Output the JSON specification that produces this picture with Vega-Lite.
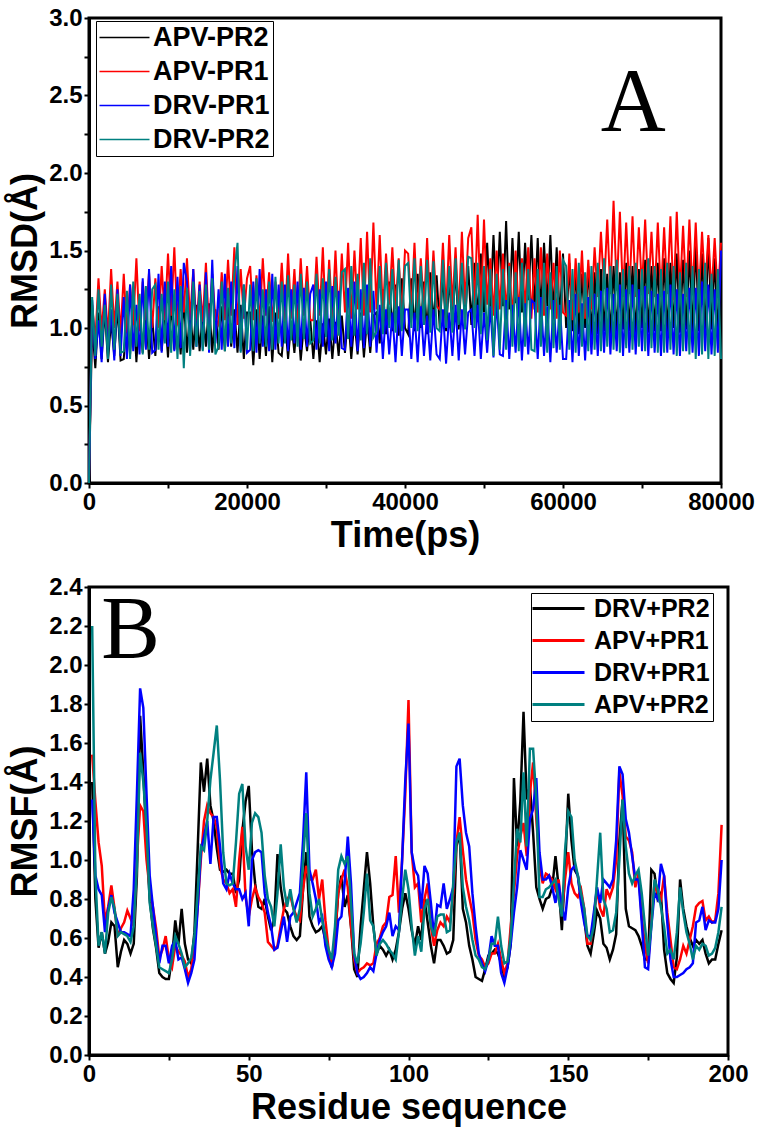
{
"$schema": "https://vega.github.io/schema/vega-lite/v6.json",
"background": "white",
"padding": {"left": 6, "top": 4, "right": 10, "bottom": 5},
"spacing": 18,
"config": {
  "view": {"stroke": "black", "strokeWidth": 3},
  "axis": {"domainColor": "black", "domainWidth": 3, "tickColor": "black", "tickWidth": 2, "labelFont": "Liberation Sans", "labelFontWeight": "bold", "labelFontSize": 24, "labelColor": "black", "labelPadding": 2, "labelOverlap": false, "labelFlush": false, "titleFont": "Liberation Sans", "titleFontWeight": "bold", "titleFontSize": 36, "titleColor": "black", "grid": false},
  "legend": {"symbolType": "M-2.5,0H2.5", "symbolFillColor": "transparent", "labelFont": "Liberation Sans", "labelFontWeight": "bold", "labelColor": "black", "strokeColor": "black", "fillColor": "white", "padding": 3, "orient": "none", "symbolSize": 400, "symbolOffset": 12, "labelOffset": 15}
},
"resolve": {"scale": {"color": "independent"}},
"vconcat": [
{
  "width": 632, "height": 465,
  "data": {"values": [
{"t":0,"k":0,"r":0,"b":0,"g":0},
{"t":400,"k":1.02,"r":1.15,"b":1.18,"g":1.20},
{"t":800,"k":0.74,"r":0.92,"b":0.80,"g":0.82},
{"t":1200,"k":1.10,"r":1.32,"b":1.05,"g":1.25},
{"t":1600,"k":0.80,"r":0.98,"b":0.78,"g":0.88},
{"t":2000,"k":1.12,"r":1.25,"b":1.22,"g":1.15},
{"t":2400,"k":0.78,"r":0.95,"b":0.84,"g":0.80},
{"t":2800,"k":1.05,"r":1.38,"b":1.12,"g":1.28},
{"t":3200,"k":0.82,"r":1.00,"b":0.79,"g":0.86},
{"t":3600,"k":1.14,"r":1.30,"b":1.25,"g":1.22},
{"t":4000,"k":0.79,"r":0.96,"b":0.82,"g":0.84},
{"t":4400,"k":0.80,"r":1.35,"b":1.20,"g":0.85},
{"t":4800,"k":1.08,"r":0.97,"b":0.80,"g":1.24},
{"t":5200,"k":0.83,"r":1.28,"b":1.28,"g":0.80},
{"t":5600,"k":1.15,"r":1.02,"b":0.85,"g":1.30},
{"t":6000,"k":0.78,"r":1.45,"b":1.15,"g":0.88},
{"t":6400,"k":1.10,"r":0.98,"b":0.83,"g":1.22},
{"t":6800,"k":0.84,"r":1.30,"b":1.32,"g":0.83},
{"t":7200,"k":1.12,"r":1.05,"b":0.86,"g":1.27},
{"t":7600,"k":0.80,"r":1.36,"b":1.38,"g":0.86},
{"t":8000,"k":1.06,"r":1.00,"b":0.84,"g":1.25},
{"t":8400,"k":0.82,"r":1.32,"b":0.86,"g":1.28},
{"t":8800,"k":1.14,"r":1.00,"b":1.35,"g":0.86},
{"t":9200,"k":0.85,"r":1.40,"b":0.84,"g":1.22},
{"t":9600,"k":1.10,"r":1.05,"b":1.30,"g":0.90},
{"t":10000,"k":0.81,"r":1.48,"b":0.88,"g":1.30},
{"t":10400,"k":1.16,"r":1.08,"b":1.40,"g":0.84},
{"t":10800,"k":0.86,"r":1.52,"b":0.85,"g":1.25},
{"t":11200,"k":1.12,"r":1.02,"b":1.33,"g":0.80},
{"t":11600,"k":0.83,"r":1.38,"b":0.87,"g":1.27},
{"t":12000,"k":1.18,"r":1.10,"b":1.42,"g":0.74},
{"t":12400,"k":0.84,"r":1.45,"b":1.30,"g":1.26},
{"t":12800,"k":1.12,"r":1.05,"b":0.85,"g":0.82},
{"t":13200,"k":0.86,"r":1.38,"b":1.38,"g":1.30},
{"t":13600,"k":1.15,"r":1.00,"b":0.88,"g":0.88},
{"t":14000,"k":0.85,"r":1.30,"b":1.28,"g":1.24},
{"t":14400,"k":1.10,"r":1.04,"b":0.86,"g":0.85},
{"t":14800,"k":0.88,"r":1.42,"b":1.36,"g":1.28},
{"t":15200,"k":1.16,"r":0.98,"b":0.84,"g":0.86},
{"t":15600,"k":0.84,"r":1.35,"b":1.44,"g":1.32},
{"t":16000,"k":1.12,"r":1.06,"b":0.90,"g":0.83},
{"t":16400,"k":0.86,"r":1.02,"b":1.25,"g":0.88},
{"t":16800,"k":1.14,"r":1.36,"b":0.86,"g":1.30},
{"t":17200,"k":0.85,"r":1.05,"b":1.35,"g":0.85},
{"t":17600,"k":1.18,"r":1.44,"b":0.88,"g":1.26},
{"t":18000,"k":0.88,"r":1.08,"b":1.30,"g":0.90},
{"t":18400,"k":1.12,"r":1.52,"b":0.87,"g":1.35},
{"t":18800,"k":0.84,"r":1.02,"b":1.40,"g":1.55},
{"t":19200,"k":1.15,"r":1.38,"b":0.85,"g":0.84},
{"t":19600,"k":0.80,"r":1.06,"b":1.28,"g":1.28},
{"t":20000,"k":1.10,"r":1.32,"b":0.84,"g":0.86},
{"t":20400,"k":1.10,"r":1.40,"b":0.86,"g":1.28},
{"t":20800,"k":0.76,"r":1.05,"b":1.30,"g":0.85},
{"t":21200,"k":1.12,"r":1.34,"b":0.84,"g":1.32},
{"t":21600,"k":0.80,"r":1.02,"b":1.38,"g":0.90},
{"t":22000,"k":1.08,"r":1.45,"b":0.88,"g":1.25},
{"t":22400,"k":0.82,"r":1.08,"b":1.25,"g":0.88},
{"t":22800,"k":1.14,"r":1.36,"b":0.85,"g":1.30},
{"t":23200,"k":0.78,"r":1.04,"b":1.35,"g":0.86},
{"t":23600,"k":1.10,"r":1.30,"b":0.86,"g":1.33},
{"t":24000,"k":0.84,"r":1.06,"b":1.28,"g":0.90},
{"t":24400,"k":0.82,"r":1.42,"b":0.88,"g":1.30},
{"t":24800,"k":1.06,"r":1.04,"b":1.28,"g":0.90},
{"t":25200,"k":0.80,"r":1.48,"b":0.85,"g":1.34},
{"t":25600,"k":1.04,"r":1.06,"b":1.25,"g":0.92},
{"t":26000,"k":0.84,"r":1.38,"b":0.90,"g":1.28},
{"t":26400,"k":1.08,"r":1.02,"b":1.30,"g":0.88},
{"t":26800,"k":0.79,"r":1.45,"b":0.86,"g":1.35},
{"t":27200,"k":1.02,"r":1.08,"b":1.26,"g":0.93},
{"t":27600,"k":0.85,"r":1.40,"b":0.88,"g":1.30},
{"t":28000,"k":1.06,"r":1.05,"b":1.22,"g":0.90},
{"t":28400,"k":0.80,"r":1.05,"b":1.28,"g":0.92},
{"t":28800,"k":1.05,"r":1.46,"b":0.86,"g":1.35},
{"t":29200,"k":0.78,"r":1.08,"b":1.25,"g":0.90},
{"t":29600,"k":1.03,"r":1.52,"b":0.88,"g":1.32},
{"t":30000,"k":0.83,"r":1.02,"b":1.30,"g":0.94},
{"t":30400,"k":1.06,"r":1.44,"b":0.85,"g":1.38},
{"t":30800,"k":0.80,"r":1.06,"b":1.27,"g":0.92},
{"t":31200,"k":1.04,"r":1.50,"b":0.90,"g":1.33},
{"t":31600,"k":0.82,"r":1.04,"b":1.24,"g":0.95},
{"t":32000,"k":1.08,"r":1.48,"b":0.87,"g":1.36},
{"t":32400,"k":0.84,"r":1.10,"b":0.86,"g":1.38},
{"t":32800,"k":1.08,"r":1.55,"b":1.26,"g":0.93},
{"t":33200,"k":0.80,"r":1.06,"b":0.88,"g":1.40},
{"t":33600,"k":1.05,"r":1.50,"b":1.30,"g":0.95},
{"t":34000,"k":0.83,"r":1.12,"b":0.85,"g":1.35},
{"t":34400,"k":1.10,"r":1.58,"b":1.25,"g":0.92},
{"t":34800,"k":0.81,"r":1.08,"b":0.87,"g":1.42},
{"t":35200,"k":1.06,"r":1.62,"b":1.28,"g":0.96},
{"t":35600,"k":0.84,"r":1.10,"b":0.88,"g":1.45},
{"t":36000,"k":1.08,"r":1.68,"b":1.24,"g":0.94},
{"t":36400,"k":1.10,"r":1.12,"b":0.84,"g":0.98},
{"t":36800,"k":0.90,"r":1.60,"b":1.15,"g":1.40},
{"t":37200,"k":1.25,"r":1.10,"b":0.80,"g":0.96},
{"t":37600,"k":0.96,"r":1.48,"b":1.12,"g":1.42},
{"t":38000,"k":1.30,"r":1.15,"b":0.83,"g":1.00},
{"t":38400,"k":0.98,"r":1.52,"b":1.10,"g":1.38},
{"t":38800,"k":1.28,"r":1.12,"b":0.78,"g":0.97},
{"t":39200,"k":0.95,"r":1.45,"b":1.14,"g":1.44},
{"t":39600,"k":1.32,"r":1.08,"b":0.82,"g":0.98},
{"t":40000,"k":1.00,"r":1.50,"b":1.12,"g":1.40},
{"t":40400,"k":0.96,"r":1.48,"b":1.12,"g":1.42},
{"t":40800,"k":1.32,"r":1.10,"b":0.80,"g":1.00},
{"t":41200,"k":0.98,"r":1.55,"b":1.10,"g":1.45},
{"t":41600,"k":1.35,"r":1.08,"b":0.78,"g":0.98},
{"t":42000,"k":1.00,"r":1.45,"b":1.14,"g":1.40},
{"t":42400,"k":1.30,"r":1.12,"b":0.82,"g":1.02},
{"t":42800,"k":0.96,"r":1.58,"b":1.08,"g":1.44},
{"t":43200,"k":1.36,"r":1.10,"b":0.79,"g":0.97},
{"t":43600,"k":1.02,"r":1.50,"b":1.12,"g":1.43},
{"t":44000,"k":1.34,"r":1.14,"b":0.83,"g":1.00},
{"t":44400,"k":1.00,"r":1.12,"b":0.80,"g":0.98},
{"t":44800,"k":1.35,"r":1.55,"b":1.12,"g":1.44},
{"t":45200,"k":0.98,"r":1.10,"b":0.77,"g":1.00},
{"t":45600,"k":1.32,"r":1.60,"b":1.10,"g":1.40},
{"t":46000,"k":1.02,"r":1.14,"b":0.82,"g":0.97},
{"t":46400,"k":1.38,"r":1.52,"b":1.15,"g":1.45},
{"t":46800,"k":0.99,"r":1.08,"b":0.79,"g":1.02},
{"t":47200,"k":1.36,"r":1.62,"b":1.12,"g":1.42},
{"t":47600,"k":1.04,"r":1.15,"b":0.83,"g":0.99},
{"t":48000,"k":1.40,"r":1.58,"b":1.10,"g":1.46},
{"t":48400,"k":1.02,"r":1.65,"b":1.12,"g":1.45},
{"t":48800,"k":1.42,"r":1.12,"b":0.82,"g":1.00},
{"t":49200,"k":1.06,"r":1.73,"b":1.15,"g":1.42},
{"t":49600,"k":1.48,"r":1.10,"b":0.80,"g":0.96},
{"t":50000,"k":1.10,"r":1.70,"b":1.10,"g":1.40},
{"t":50400,"k":1.55,"r":1.15,"b":0.84,"g":0.92},
{"t":50800,"k":1.12,"r":1.45,"b":1.14,"g":1.38},
{"t":51200,"k":1.60,"r":1.08,"b":0.81,"g":0.82},
{"t":51600,"k":1.15,"r":1.50,"b":1.18,"g":1.35},
{"t":52000,"k":1.62,"r":1.12,"b":0.83,"g":0.86},
{"t":52400,"k":1.14,"r":1.48,"b":0.82,"g":1.38},
{"t":52800,"k":1.69,"r":1.10,"b":1.18,"g":0.86},
{"t":53200,"k":1.12,"r":1.42,"b":0.80,"g":1.40},
{"t":53600,"k":1.58,"r":1.05,"b":1.15,"g":0.88},
{"t":54000,"k":1.16,"r":1.50,"b":0.84,"g":1.36},
{"t":54400,"k":1.62,"r":1.08,"b":1.20,"g":0.85},
{"t":54800,"k":1.10,"r":1.45,"b":0.79,"g":1.42},
{"t":55200,"k":1.55,"r":1.12,"b":1.16,"g":0.88},
{"t":55600,"k":1.18,"r":1.52,"b":0.83,"g":1.38},
{"t":56000,"k":1.60,"r":1.06,"b":1.18,"g":0.86},
{"t":56400,"k":1.12,"r":1.45,"b":1.16,"g":0.85},
{"t":56800,"k":1.58,"r":1.10,"b":0.80,"g":1.38},
{"t":57200,"k":1.10,"r":1.52,"b":1.20,"g":0.88},
{"t":57600,"k":1.55,"r":1.08,"b":0.82,"g":1.42},
{"t":58000,"k":1.14,"r":1.48,"b":1.14,"g":0.84},
{"t":58400,"k":1.60,"r":1.12,"b":0.78,"g":1.36},
{"t":58800,"k":1.08,"r":1.42,"b":1.18,"g":0.87},
{"t":59200,"k":1.52,"r":1.06,"b":0.84,"g":1.40},
{"t":59600,"k":1.05,"r":1.50,"b":1.15,"g":0.86},
{"t":60000,"k":1.48,"r":1.10,"b":0.80,"g":1.44},
{"t":60400,"k":1.00,"r":1.08,"b":0.80,"g":1.40},
{"t":60800,"k":1.42,"r":1.48,"b":1.18,"g":0.86},
{"t":61200,"k":0.98,"r":1.05,"b":0.78,"g":1.38},
{"t":61600,"k":1.38,"r":1.45,"b":1.22,"g":0.84},
{"t":62000,"k":0.96,"r":1.10,"b":0.82,"g":1.42},
{"t":62400,"k":1.35,"r":1.50,"b":1.16,"g":0.88},
{"t":62800,"k":1.00,"r":1.06,"b":0.79,"g":1.36},
{"t":63200,"k":1.40,"r":1.44,"b":1.20,"g":0.85},
{"t":63600,"k":0.95,"r":1.12,"b":0.83,"g":1.40},
{"t":64000,"k":1.36,"r":1.52,"b":1.22,"g":0.86},
{"t":64400,"k":0.96,"r":1.20,"b":0.82,"g":1.42},
{"t":64800,"k":1.38,"r":1.62,"b":1.24,"g":0.85},
{"t":65200,"k":0.98,"r":1.25,"b":0.84,"g":1.45},
{"t":65600,"k":1.35,"r":1.70,"b":1.26,"g":0.88},
{"t":66000,"k":0.95,"r":1.22,"b":0.83,"g":1.40},
{"t":66400,"k":1.40,"r":1.82,"b":1.22,"g":0.86},
{"t":66800,"k":0.97,"r":1.24,"b":0.85,"g":1.44},
{"t":67200,"k":1.36,"r":1.75,"b":1.28,"g":0.84},
{"t":67600,"k":0.99,"r":1.20,"b":0.82,"g":1.38},
{"t":68000,"k":1.42,"r":1.68,"b":1.25,"g":0.87},
{"t":68400,"k":0.98,"r":1.22,"b":0.84,"g":1.40},
{"t":68800,"k":1.40,"r":1.72,"b":1.28,"g":0.86},
{"t":69200,"k":0.96,"r":1.20,"b":0.83,"g":1.42},
{"t":69600,"k":1.38,"r":1.65,"b":1.25,"g":0.88},
{"t":70000,"k":1.00,"r":1.25,"b":0.85,"g":1.38},
{"t":70400,"k":1.44,"r":1.70,"b":1.27,"g":0.85},
{"t":70800,"k":0.97,"r":1.22,"b":0.82,"g":1.45},
{"t":71200,"k":1.40,"r":1.62,"b":1.24,"g":0.87},
{"t":71600,"k":0.98,"r":1.20,"b":0.84,"g":1.40},
{"t":72000,"k":1.42,"r":1.68,"b":1.22,"g":0.84},
{"t":72400,"k":0.98,"r":1.20,"b":0.82,"g":1.38},
{"t":72800,"k":1.45,"r":1.65,"b":1.24,"g":0.84},
{"t":73200,"k":0.96,"r":1.22,"b":0.84,"g":1.42},
{"t":73600,"k":1.42,"r":1.72,"b":1.28,"g":0.86},
{"t":74000,"k":1.00,"r":1.18,"b":0.83,"g":1.40},
{"t":74400,"k":1.48,"r":1.75,"b":1.25,"g":0.82},
{"t":74800,"k":0.97,"r":1.22,"b":0.82,"g":1.36},
{"t":75200,"k":1.44,"r":1.66,"b":1.22,"g":0.85},
{"t":75600,"k":0.99,"r":1.20,"b":0.85,"g":1.42},
{"t":76000,"k":1.50,"r":1.70,"b":1.26,"g":0.83},
{"t":76400,"k":0.97,"r":1.22,"b":0.84,"g":1.40},
{"t":76800,"k":1.55,"r":1.68,"b":1.26,"g":0.80},
{"t":77200,"k":0.98,"r":1.20,"b":0.82,"g":1.38},
{"t":77600,"k":1.48,"r":1.62,"b":1.30,"g":0.83},
{"t":78000,"k":0.96,"r":1.25,"b":0.85,"g":1.42},
{"t":78400,"k":1.58,"r":1.60,"b":1.28,"g":0.80},
{"t":78800,"k":0.99,"r":1.22,"b":0.83,"g":1.35},
{"t":79200,"k":1.45,"r":1.58,"b":1.25,"g":0.82},
{"t":79600,"k":0.97,"r":1.20,"b":0.84,"g":1.38},
{"t":80000,"k":1.40,"r":1.55,"b":1.50,"g":0.80}
  ]},
  "transform": [{"fold": ["k", "r", "b", "g"], "as": ["s", "v"]}],
  "layer": [
    {
      "encoding": {
        "x": {"field": "t", "type": "quantitative", "title": "Time(ps)", "scale": {"domain": [0, 80000], "nice": false, "zero": false},
          "axis": {"title": "Time(ps)", "values": [0, 10000, 20000, 30000, 40000, 50000, 60000, 70000, 80000], "labelExpr": "datum.value % 20000 === 0 ? '' + datum.value : ''", "tickSize": 5, "titlePadding": 4}},
        "y": {"field": "v", "type": "quantitative", "title": "RMSD(Å)", "scale": {"domain": [0, 3], "nice": false},
          "axis": {"title": "RMSD(Å)", "values": [0, 0.25, 0.5, 0.75, 1, 1.25, 1.5, 1.75, 2, 2.25, 2.5, 2.75, 3], "labelExpr": "datum.value % 0.5 === 0 ? format(datum.value, '.1f') : ''", "tickSize": 5, "titlePadding": 4}}
      },
      "layer": [
        {"transform": [{"filter": "datum.s === 'k'"}], "mark": {"type": "line", "strokeWidth": 2},
         "encoding": {"color": {"datum": "APV-PR2", "scale": {"domain": ["APV-PR2", "APV-PR1", "DRV-PR1", "DRV-PR2"], "range": ["#000000", "#ff0000", "#0000ff", "#008080"]}, "legend": {"title": null, "legendX": 7, "legendY": 3, "symbolStrokeWidth": 1.5, "labelFontSize": 27, "rowPadding": 6}}}},
        {"transform": [{"filter": "datum.s === 'r'"}], "mark": {"type": "line", "strokeWidth": 2},
         "encoding": {"color": {"datum": "APV-PR1", "scale": {"domain": ["APV-PR2", "APV-PR1", "DRV-PR1", "DRV-PR2"], "range": ["#000000", "#ff0000", "#0000ff", "#008080"]}, "legend": {"title": null, "legendX": 7, "legendY": 3, "symbolStrokeWidth": 1.5, "labelFontSize": 27, "rowPadding": 6}}}},
        {"transform": [{"filter": "datum.s === 'b'"}], "mark": {"type": "line", "strokeWidth": 2},
         "encoding": {"color": {"datum": "DRV-PR1", "scale": {"domain": ["APV-PR2", "APV-PR1", "DRV-PR1", "DRV-PR2"], "range": ["#000000", "#ff0000", "#0000ff", "#008080"]}, "legend": {"title": null, "legendX": 7, "legendY": 3, "symbolStrokeWidth": 1.5, "labelFontSize": 27, "rowPadding": 6}}}},
        {"transform": [{"filter": "datum.s === 'g'"}], "mark": {"type": "line", "strokeWidth": 2},
         "encoding": {"color": {"datum": "DRV-PR2", "scale": {"domain": ["APV-PR2", "APV-PR1", "DRV-PR1", "DRV-PR2"], "range": ["#000000", "#ff0000", "#0000ff", "#008080"]}, "legend": {"title": null, "legendX": 7, "legendY": 3, "symbolStrokeWidth": 1.5, "labelFontSize": 27, "rowPadding": 6}}}}
      ]
    },
    {"transform": [{"aggregate": [{"op": "count", "as": "n"}]}], "mark": {"type": "text", "text": "A", "font": "Liberation Serif", "fontSize": 90, "baseline": "alphabetic", "align": "center", "fill": "black"},
     "encoding": {
       "x": {"datum": 68900, "type": "quantitative", "axis": {"title": "Time(ps)", "values": [0, 10000, 20000, 30000, 40000, 50000, 60000, 70000, 80000], "labelExpr": "datum.value % 20000 === 0 ? '' + datum.value : ''", "tickSize": 5, "titlePadding": 4}},
       "y": {"datum": 2.27, "type": "quantitative", "axis": {"title": "RMSD(Å)", "values": [0, 0.25, 0.5, 0.75, 1, 1.25, 1.5, 1.75, 2, 2.25, 2.5, 2.75, 3], "labelExpr": "datum.value % 0.5 === 0 ? format(datum.value, '.1f') : ''", "tickSize": 5, "titlePadding": 4}}}}
  ]
},
{
  "width": 639, "height": 468,
  "data": {"values": [
{"r":1,"k":1.40,"e":1.54,"b":1.31,"g":2.20},
{"r":2,"k":0.80,"e":1.30,"b":0.92,"g":0.92},
{"r":3,"k":0.55,"e":1.09,"b":0.85,"g":0.56},
{"r":4,"k":0.63,"e":0.97,"b":0.82,"g":0.63},
{"r":5,"k":0.52,"e":0.68,"b":0.63,"g":0.52},
{"r":6,"k":0.58,"e":0.76,"b":0.75,"g":0.73},
{"r":7,"k":0.68,"e":0.87,"b":0.82,"g":0.81},
{"r":8,"k":0.66,"e":0.75,"b":0.73,"g":0.75},
{"r":9,"k":0.45,"e":0.61,"b":0.68,"g":0.61},
{"r":10,"k":0.53,"e":0.65,"b":0.63,"g":0.63},
{"r":11,"k":0.59,"e":0.68,"b":0.63,"g":0.62},
{"r":12,"k":0.57,"e":0.74,"b":0.62,"g":0.61},
{"r":13,"k":0.52,"e":0.70,"b":0.61,"g":0.58},
{"r":14,"k":0.57,"e":0.66,"b":0.85,"g":0.66},
{"r":15,"k":0.92,"e":1.00,"b":1.34,"g":0.97},
{"r":16,"k":1.74,"e":1.28,"b":1.88,"g":1.55},
{"r":17,"k":1.45,"e":1.25,"b":1.78,"g":1.40},
{"r":18,"k":1.10,"e":1.00,"b":1.34,"g":1.17},
{"r":19,"k":0.80,"e":0.85,"b":0.92,"g":0.78},
{"r":20,"k":0.65,"e":0.76,"b":0.76,"g":0.66},
{"r":21,"k":0.55,"e":0.65,"b":0.61,"g":0.56},
{"r":22,"k":0.42,"e":0.50,"b":0.47,"g":0.45},
{"r":23,"k":0.40,"e":0.54,"b":0.56,"g":0.44},
{"r":24,"k":0.39,"e":0.61,"b":0.56,"g":0.43},
{"r":25,"k":0.39,"e":0.49,"b":0.47,"g":0.42},
{"r":26,"k":0.50,"e":0.45,"b":0.56,"g":0.49},
{"r":27,"k":0.69,"e":0.56,"b":0.59,"g":0.61},
{"r":28,"k":0.57,"e":0.53,"b":0.49,"g":0.57},
{"r":29,"k":0.75,"e":0.51,"b":0.50,"g":0.52},
{"r":30,"k":0.57,"e":0.48,"b":0.44,"g":0.45},
{"r":31,"k":0.49,"e":0.40,"b":0.37,"g":0.47},
{"r":32,"k":0.47,"e":0.44,"b":0.42,"g":0.50},
{"r":33,"k":0.63,"e":0.57,"b":0.49,"g":0.61},
{"r":34,"k":1.05,"e":0.75,"b":0.75,"g":0.83},
{"r":35,"k":1.50,"e":1.00,"b":1.04,"g":1.07},
{"r":36,"k":1.35,"e":1.20,"b":1.12,"g":1.05},
{"r":37,"k":1.52,"e":1.28,"b":1.20,"g":1.20},
{"r":38,"k":1.28,"e":1.24,"b":0.98,"g":1.41},
{"r":39,"k":1.20,"e":1.22,"b":1.22,"g":1.55},
{"r":40,"k":1.06,"e":1.17,"b":1.22,"g":1.69},
{"r":41,"k":0.95,"e":0.97,"b":1.07,"g":1.41},
{"r":42,"k":0.94,"e":0.90,"b":0.88,"g":1.04},
{"r":43,"k":0.95,"e":0.88,"b":0.85,"g":0.88},
{"r":44,"k":0.93,"e":0.83,"b":0.93,"g":0.87},
{"r":45,"k":0.93,"e":0.85,"b":0.88,"g":0.88},
{"r":46,"k":0.83,"e":0.76,"b":0.85,"g":1.09},
{"r":47,"k":0.90,"e":1.00,"b":0.85,"g":1.34},
{"r":48,"k":1.15,"e":1.17,"b":0.80,"g":1.39},
{"r":49,"k":1.30,"e":0.81,"b":0.83,"g":1.07},
{"r":50,"k":1.38,"e":0.71,"b":0.66,"g":0.95},
{"r":51,"k":1.05,"e":0.80,"b":1.00,"g":1.19},
{"r":52,"k":0.88,"e":0.86,"b":1.04,"g":1.24},
{"r":53,"k":0.76,"e":0.81,"b":1.05,"g":1.22},
{"r":54,"k":0.75,"e":0.78,"b":1.04,"g":1.14},
{"r":55,"k":0.80,"e":0.73,"b":0.83,"g":0.92},
{"r":56,"k":0.71,"e":0.58,"b":0.73,"g":0.80},
{"r":57,"k":0.64,"e":0.56,"b":0.66,"g":0.76},
{"r":58,"k":0.70,"e":0.54,"b":0.54,"g":0.66},
{"r":59,"k":1.03,"e":0.56,"b":0.55,"g":0.83},
{"r":60,"k":0.86,"e":0.66,"b":0.63,"g":1.08},
{"r":61,"k":0.75,"e":0.75,"b":0.71,"g":0.86},
{"r":62,"k":0.73,"e":0.80,"b":0.58,"g":0.76},
{"r":63,"k":0.66,"e":0.82,"b":0.71,"g":0.85},
{"r":64,"k":0.61,"e":0.75,"b":0.73,"g":0.75},
{"r":65,"k":0.59,"e":0.71,"b":0.78,"g":0.68},
{"r":66,"k":0.61,"e":0.69,"b":0.83,"g":0.75},
{"r":67,"k":0.85,"e":0.85,"b":1.10,"g":1.00},
{"r":68,"k":1.04,"e":0.97,"b":1.45,"g":1.24},
{"r":69,"k":0.71,"e":0.90,"b":0.95,"g":0.83},
{"r":70,"k":0.66,"e":0.90,"b":0.88,"g":0.71},
{"r":71,"k":0.63,"e":0.95,"b":0.80,"g":0.75},
{"r":72,"k":0.64,"e":0.80,"b":0.68,"g":0.80},
{"r":73,"k":0.66,"e":0.90,"b":0.71,"g":0.69},
{"r":74,"k":0.59,"e":0.69,"b":0.56,"g":0.61},
{"r":75,"k":0.52,"e":0.54,"b":0.49,"g":0.54},
{"r":76,"k":0.45,"e":0.45,"b":0.45,"g":0.49},
{"r":77,"k":0.59,"e":0.61,"b":0.52,"g":0.66},
{"r":78,"k":0.83,"e":0.83,"b":0.69,"g":0.95},
{"r":79,"k":0.92,"e":0.90,"b":0.71,"g":1.02},
{"r":80,"k":0.76,"e":0.95,"b":0.88,"g":0.98},
{"r":81,"k":0.82,"e":0.86,"b":1.12,"g":1.02},
{"r":82,"k":0.66,"e":0.66,"b":0.88,"g":0.78},
{"r":83,"k":0.44,"e":0.49,"b":0.52,"g":0.52},
{"r":84,"k":0.40,"e":0.42,"b":0.42,"g":0.47},
{"r":85,"k":0.66,"e":0.44,"b":0.39,"g":0.57},
{"r":86,"k":0.85,"e":0.45,"b":0.40,"g":0.73},
{"r":87,"k":1.04,"e":0.47,"b":0.42,"g":0.93},
{"r":88,"k":0.88,"e":0.46,"b":0.45,"g":0.69},
{"r":89,"k":0.66,"e":0.47,"b":0.43,"g":0.66},
{"r":90,"k":0.52,"e":0.57,"b":0.52,"g":0.51},
{"r":91,"k":0.56,"e":0.60,"b":0.59,"g":0.57},
{"r":92,"k":0.54,"e":0.66,"b":0.63,"g":0.59},
{"r":93,"k":0.51,"e":0.68,"b":0.66,"g":0.57},
{"r":94,"k":0.54,"e":0.81,"b":0.73,"g":0.54},
{"r":95,"k":0.49,"e":0.82,"b":0.61,"g":0.52},
{"r":96,"k":0.54,"e":1.02,"b":0.66,"g":0.49},
{"r":97,"k":0.63,"e":0.73,"b":0.64,"g":0.63},
{"r":98,"k":0.75,"e":1.00,"b":1.00,"g":0.80},
{"r":99,"k":0.83,"e":1.34,"b":1.41,"g":0.95},
{"r":100,"k":0.75,"e":1.82,"b":1.70,"g":0.85},
{"r":101,"k":0.64,"e":1.04,"b":1.04,"g":0.66},
{"r":102,"k":0.56,"e":0.86,"b":0.95,"g":0.51},
{"r":103,"k":0.66,"e":0.88,"b":0.92,"g":0.61},
{"r":104,"k":0.59,"e":0.68,"b":0.75,"g":0.53},
{"r":105,"k":0.80,"e":0.80,"b":0.97,"g":0.75},
{"r":106,"k":0.68,"e":0.88,"b":0.93,"g":0.80},
{"r":107,"k":0.56,"e":0.66,"b":0.78,"g":0.66},
{"r":108,"k":0.47,"e":0.56,"b":0.61,"g":0.61},
{"r":109,"k":0.59,"e":0.64,"b":0.77,"g":0.71},
{"r":110,"k":0.59,"e":0.68,"b":0.76,"g":0.72},
{"r":111,"k":0.56,"e":0.66,"b":0.88,"g":0.72},
{"r":112,"k":0.52,"e":0.71,"b":0.75,"g":0.63},
{"r":113,"k":0.53,"e":0.68,"b":0.80,"g":0.64},
{"r":114,"k":0.59,"e":0.83,"b":0.86,"g":0.88},
{"r":115,"k":1.07,"e":1.09,"b":1.48,"g":1.09},
{"r":116,"k":1.14,"e":1.22,"b":1.52,"g":1.14},
{"r":117,"k":0.75,"e":1.05,"b":1.28,"g":0.86},
{"r":118,"k":0.68,"e":0.90,"b":1.14,"g":0.76},
{"r":119,"k":0.56,"e":0.81,"b":1.07,"g":0.69},
{"r":120,"k":0.49,"e":0.73,"b":0.83,"g":0.59},
{"r":121,"k":0.40,"e":0.59,"b":0.66,"g":0.51},
{"r":122,"k":0.39,"e":0.51,"b":0.52,"g":0.49},
{"r":123,"k":0.38,"e":0.49,"b":0.47,"g":0.45},
{"r":124,"k":0.44,"e":0.45,"b":0.43,"g":0.44},
{"r":125,"k":0.51,"e":0.47,"b":0.49,"g":0.49},
{"r":126,"k":0.52,"e":0.52,"b":0.61,"g":0.57},
{"r":127,"k":0.54,"e":0.52,"b":0.56,"g":0.57},
{"r":128,"k":0.52,"e":0.57,"b":0.56,"g":0.71},
{"r":129,"k":0.47,"e":0.49,"b":0.42,"g":0.56},
{"r":130,"k":0.40,"e":0.42,"b":0.37,"g":0.47},
{"r":131,"k":0.45,"e":0.47,"b":0.45,"g":0.48},
{"r":132,"k":0.57,"e":0.66,"b":0.57,"g":0.61},
{"r":133,"k":1.42,"e":0.83,"b":0.73,"g":0.88},
{"r":134,"k":1.07,"e":1.02,"b":0.86,"g":1.16},
{"r":135,"k":1.30,"e":1.12,"b":1.05,"g":1.09},
{"r":136,"k":1.76,"e":1.19,"b":1.00,"g":1.45},
{"r":137,"k":1.31,"e":1.02,"b":0.95,"g":1.07},
{"r":138,"k":1.38,"e":1.34,"b":1.21,"g":1.57},
{"r":139,"k":1.14,"e":1.50,"b":1.26,"g":1.57},
{"r":140,"k":0.86,"e":1.21,"b":1.42,"g":1.31},
{"r":141,"k":0.80,"e":0.97,"b":1.04,"g":0.81},
{"r":142,"k":0.75,"e":0.88,"b":0.90,"g":0.81},
{"r":143,"k":0.80,"e":0.93,"b":0.90,"g":0.85},
{"r":144,"k":0.81,"e":0.92,"b":0.92,"g":0.86},
{"r":145,"k":0.86,"e":0.90,"b":0.86,"g":0.88},
{"r":146,"k":1.02,"e":0.85,"b":0.78,"g":0.90},
{"r":147,"k":0.86,"e":0.90,"b":0.88,"g":0.80},
{"r":148,"k":0.64,"e":0.73,"b":0.76,"g":0.71},
{"r":149,"k":0.95,"e":0.90,"b":0.69,"g":1.05},
{"r":150,"k":1.34,"e":1.04,"b":0.86,"g":1.25},
{"r":151,"k":1.10,"e":0.88,"b":0.95,"g":1.22},
{"r":152,"k":0.95,"e":0.83,"b":0.97,"g":1.00},
{"r":153,"k":0.92,"e":0.81,"b":0.92,"g":0.92},
{"r":154,"k":0.80,"e":0.85,"b":0.78,"g":0.83},
{"r":155,"k":0.70,"e":0.75,"b":0.68,"g":0.75},
{"r":156,"k":0.56,"e":0.57,"b":0.61,"g":0.61},
{"r":157,"k":0.52,"e":0.57,"b":0.61,"g":0.59},
{"r":158,"k":0.62,"e":0.71,"b":0.73,"g":0.66},
{"r":159,"k":0.74,"e":0.85,"b":0.86,"g":0.90},
{"r":160,"k":0.70,"e":0.75,"b":0.78,"g":1.14},
{"r":161,"k":0.57,"e":0.71,"b":0.90,"g":0.80},
{"r":162,"k":0.55,"e":0.85,"b":0.88,"g":0.75},
{"r":163,"k":0.49,"e":0.81,"b":0.86,"g":0.63},
{"r":164,"k":0.54,"e":0.86,"b":0.90,"g":0.64},
{"r":165,"k":0.62,"e":1.00,"b":1.10,"g":0.73},
{"r":166,"k":1.10,"e":1.45,"b":1.48,"g":1.00},
{"r":167,"k":1.31,"e":1.33,"b":1.44,"g":1.31},
{"r":168,"k":0.75,"e":1.12,"b":1.21,"g":1.07},
{"r":169,"k":0.66,"e":1.10,"b":1.14,"g":0.93},
{"r":170,"k":0.65,"e":1.04,"b":1.02,"g":0.88},
{"r":171,"k":0.64,"e":0.86,"b":0.90,"g":0.92},
{"r":172,"k":0.61,"e":0.93,"b":0.90,"g":0.95},
{"r":173,"k":0.56,"e":0.71,"b":0.68,"g":0.83},
{"r":174,"k":0.49,"e":0.56,"b":0.45,"g":0.66},
{"r":175,"k":0.49,"e":0.47,"b":0.44,"g":0.51},
{"r":176,"k":0.95,"e":0.69,"b":0.66,"g":0.66},
{"r":177,"k":0.93,"e":0.88,"b":0.83,"g":0.90},
{"r":178,"k":0.80,"e":0.83,"b":0.80,"g":0.85},
{"r":179,"k":0.83,"e":0.80,"b":0.98,"g":0.76},
{"r":180,"k":0.54,"e":0.92,"b":0.92,"g":0.66},
{"r":181,"k":0.42,"e":0.73,"b":0.68,"g":0.52},
{"r":182,"k":0.39,"e":0.59,"b":0.49,"g":0.54},
{"r":183,"k":0.37,"e":0.45,"b":0.40,"g":0.49},
{"r":184,"k":0.50,"e":0.44,"b":0.40,"g":0.63},
{"r":185,"k":0.90,"e":0.49,"b":0.41,"g":0.86},
{"r":186,"k":0.75,"e":0.56,"b":0.42,"g":0.73},
{"r":187,"k":0.66,"e":0.52,"b":0.44,"g":0.63},
{"r":188,"k":0.60,"e":0.59,"b":0.45,"g":0.57},
{"r":189,"k":0.56,"e":0.66,"b":0.47,"g":0.49},
{"r":190,"k":0.59,"e":0.76,"b":0.68,"g":0.56},
{"r":191,"k":0.57,"e":0.78,"b":0.69,"g":0.54},
{"r":192,"k":0.59,"e":0.79,"b":0.76,"g":0.57},
{"r":193,"k":0.52,"e":0.69,"b":0.64,"g":0.56},
{"r":194,"k":0.47,"e":0.71,"b":0.69,"g":0.51},
{"r":195,"k":0.49,"e":0.68,"b":0.68,"g":0.52},
{"r":196,"k":0.49,"e":0.69,"b":0.68,"g":0.55},
{"r":197,"k":0.57,"e":0.83,"b":0.75,"g":0.63},
{"r":198,"k":0.64,"e":1.18,"b":1.00,"g":0.76}
  ]},
  "transform": [{"fold": ["k", "e", "b", "g"], "as": ["s", "v"]}],
  "layer": [
    {
      "encoding": {
        "x": {"field": "r", "type": "quantitative", "title": "Residue sequence", "scale": {"domain": [0, 200], "nice": false, "zero": false},
          "axis": {"title": "Residue sequence", "values": [0, 25, 50, 75, 100, 125, 150, 175, 200], "labelExpr": "datum.value % 50 === 0 ? '' + datum.value : ''", "tickSize": 5, "titlePadding": 4}},
        "y": {"field": "v", "type": "quantitative", "title": "RMSF(Å)", "scale": {"domain": [0, 2.4], "nice": false},
          "axis": {"title": "RMSF(Å)", "values": [0, 0.2, 0.4, 0.6, 0.8, 1, 1.2, 1.4, 1.6, 1.8, 2, 2.2, 2.4], "format": ".1f", "tickSize": 5, "titlePadding": 4}}
      },
      "layer": [
        {"transform": [{"filter": "datum.s === 'k'"}], "mark": {"type": "line", "strokeWidth": 2.5},
         "encoding": {"color": {"datum": "DRV+PR2", "scale": {"domain": ["DRV+PR2", "APV+PR1", "DRV+PR1", "APV+PR2"], "range": ["#000000", "#ff0000", "#0000ff", "#008080"]}, "legend": {"title": null, "legendX": 442, "legendY": 6, "symbolType": "M-2.6,0H2.6", "symbolStrokeWidth": 3, "labelFontSize": 25, "rowPadding": 6, "labelOffset": 23}}}},
        {"transform": [{"filter": "datum.s === 'e'"}], "mark": {"type": "line", "strokeWidth": 2.5},
         "encoding": {"color": {"datum": "APV+PR1", "scale": {"domain": ["DRV+PR2", "APV+PR1", "DRV+PR1", "APV+PR2"], "range": ["#000000", "#ff0000", "#0000ff", "#008080"]}, "legend": {"title": null, "legendX": 442, "legendY": 6, "symbolType": "M-2.6,0H2.6", "symbolStrokeWidth": 3, "labelFontSize": 25, "rowPadding": 6, "labelOffset": 23}}}},
        {"transform": [{"filter": "datum.s === 'b'"}], "mark": {"type": "line", "strokeWidth": 2.5},
         "encoding": {"color": {"datum": "DRV+PR1", "scale": {"domain": ["DRV+PR2", "APV+PR1", "DRV+PR1", "APV+PR2"], "range": ["#000000", "#ff0000", "#0000ff", "#008080"]}, "legend": {"title": null, "legendX": 442, "legendY": 6, "symbolType": "M-2.6,0H2.6", "symbolStrokeWidth": 3, "labelFontSize": 25, "rowPadding": 6, "labelOffset": 23}}}},
        {"transform": [{"filter": "datum.s === 'g'"}], "mark": {"type": "line", "strokeWidth": 2.5},
         "encoding": {"color": {"datum": "APV+PR2", "scale": {"domain": ["DRV+PR2", "APV+PR1", "DRV+PR1", "APV+PR2"], "range": ["#000000", "#ff0000", "#0000ff", "#008080"]}, "legend": {"title": null, "legendX": 442, "legendY": 6, "symbolType": "M-2.6,0H2.6", "symbolStrokeWidth": 3, "labelFontSize": 25, "rowPadding": 6, "labelOffset": 23}}}}
      ]
    },
    {"transform": [{"aggregate": [{"op": "count", "as": "n"}]}], "mark": {"type": "text", "text": "B", "font": "Liberation Serif", "fontSize": 88, "baseline": "alphabetic", "align": "center", "fill": "black"},
     "encoding": {
       "x": {"datum": 13, "type": "quantitative", "axis": {"title": "Residue sequence", "values": [0, 25, 50, 75, 100, 125, 150, 175, 200], "labelExpr": "datum.value % 50 === 0 ? '' + datum.value : ''", "tickSize": 5, "titlePadding": 4}},
       "y": {"datum": 2.04, "type": "quantitative", "axis": {"title": "RMSF(Å)", "values": [0, 0.2, 0.4, 0.6, 0.8, 1, 1.2, 1.4, 1.6, 1.8, 2, 2.2, 2.4], "format": ".1f", "tickSize": 5, "titlePadding": 4}}}}
  ]
}
]
}
